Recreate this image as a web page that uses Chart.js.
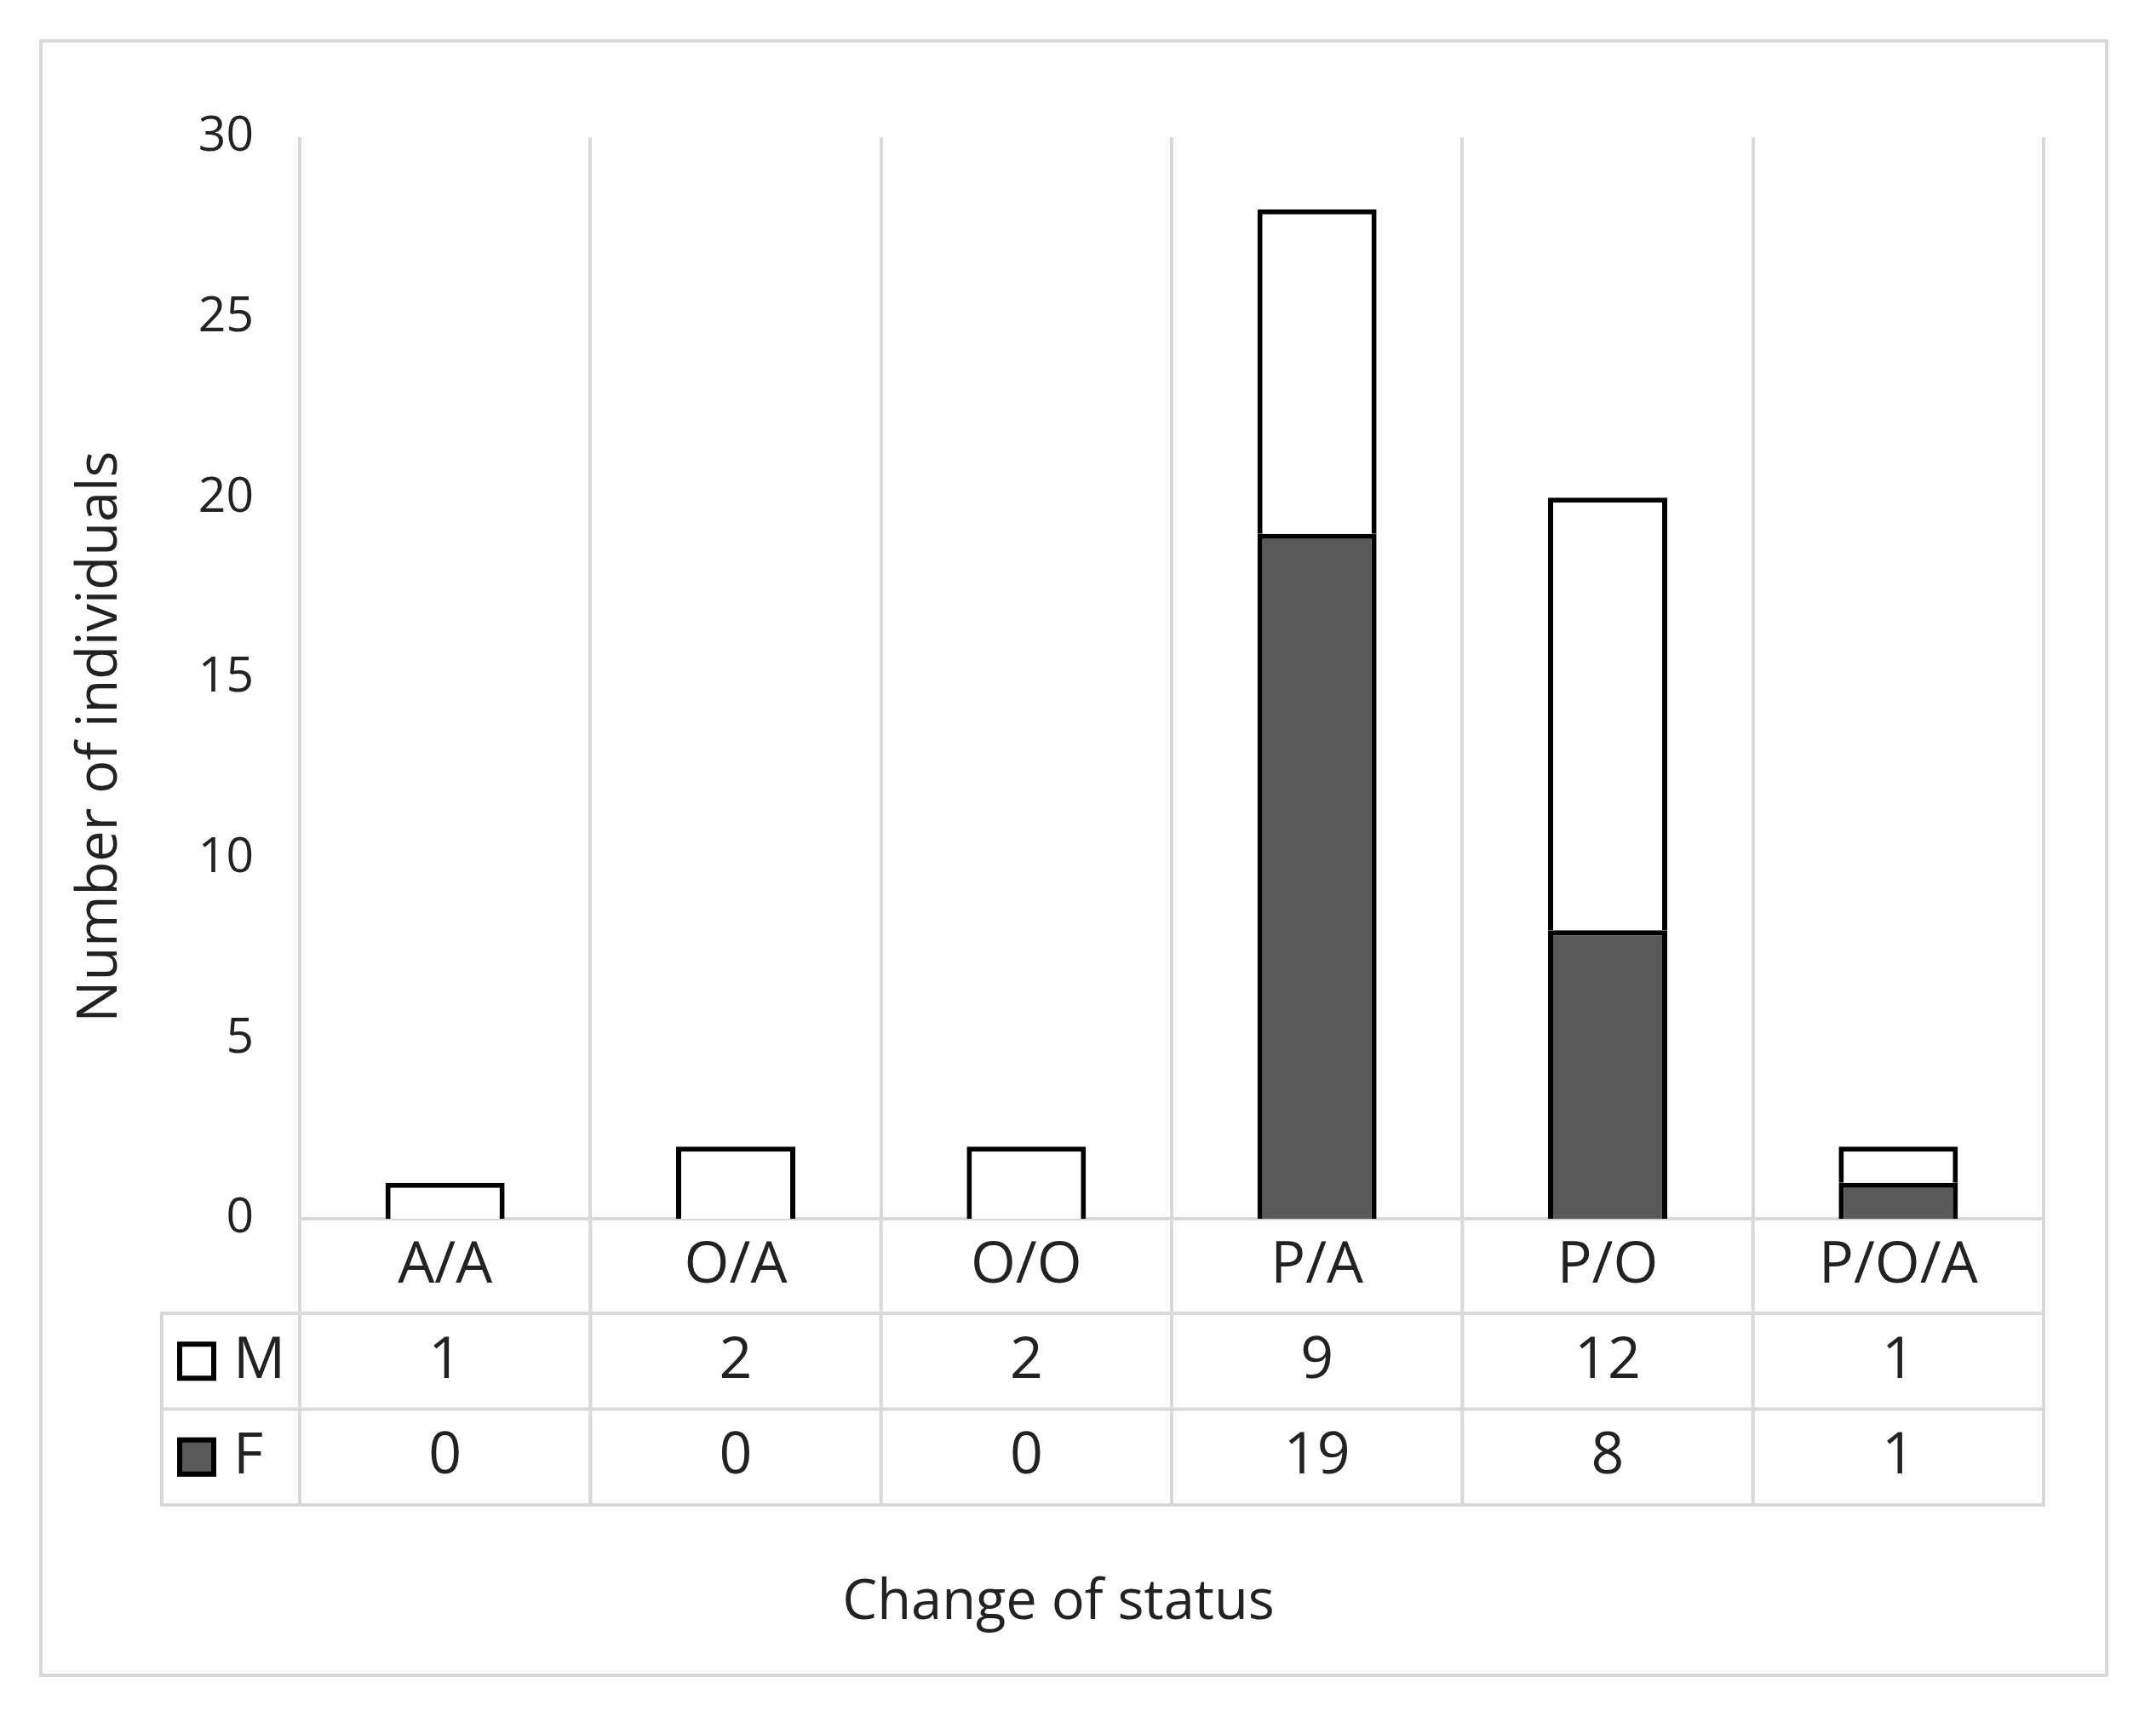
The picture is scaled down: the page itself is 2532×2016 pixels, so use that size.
<!DOCTYPE html>
<html>
<head>
<meta charset="utf-8">
<title>Change of status</title>
<script src="https://cdn.jsdelivr.net/npm/chart.js@4.4.1/dist/chart.umd.min.js"></script>
<style>
	html, body { margin: 0; padding: 0; background: #fff; }
	#chart-container { width: 2532px; height: 2016px; position: relative; }
</style>
</head>
<body>
<div id="chart-container">
	<canvas id="bar-chartcanvas"></canvas>
</div>
<script>
// data
var categories = ["A/A", "O/A", "O/O", "P/A", "P/O", "P/O/A"];
var maleCounts = [1, 2, 2, 9, 12, 1];
var femaleCounts = [0, 0, 0, 19, 8, 1];
var seriesNames = ["M", "F"];
var yMin = 0;
var yMax = 30;
var yStep = 5;
var xTitle = "Change of status";
var yTitle = "Number of individuals";

var textColor = "#222222";
var lineColor = "#d9d9d9";
var fontFamily = "'Open Sans', 'DejaVu Sans', sans-serif";

/**
 * data table under the x axis (legend keys + values), axis titles and frame.
 * column positions come from the x scale.
 */
var tablePlugin = {
	id : "dataTable",
	afterDraw : function(chart, args, opts) {
		var ctx = chart.ctx;
		var xs = chart.scales.x;
		var area = chart.chartArea;
		var n = chart.data.labels.length;
		var right = xs.getPixelForValue(n - 0.5);
		var rows = chart.data.datasets.slice().reverse(); // M row first, F row second
		var rowTop = opts.firstRowTop;
		var rowH = opts.rowHeight;
		var tableBottom = rowTop + rows.length * rowH;
		var r, i;

		ctx.save();

		// grid lines of the table
		ctx.strokeStyle = lineColor;
		ctx.lineWidth = opts.lineWidth;
		ctx.beginPath();
		for (r = 0; r <= rows.length; r++) {
			ctx.moveTo(opts.tableLeft, rowTop + r * rowH);
			ctx.lineTo(right + opts.lineWidth / 2, rowTop + r * rowH);
		}
		for (i = 0; i <= n; i++) {
			var xx = xs.getPixelForValue(i - 0.5);
			ctx.moveTo(xx, area.bottom);
			ctx.lineTo(xx, tableBottom + opts.lineWidth / 2);
		}
		ctx.moveTo(opts.tableLeft, rowTop - opts.lineWidth / 2);
		ctx.lineTo(opts.tableLeft, tableBottom + opts.lineWidth / 2);
		ctx.stroke();

		// outer frame
		ctx.lineWidth = opts.frameWidth;
		ctx.strokeRect(opts.frame[0], opts.frame[1], opts.frame[2] - opts.frame[0], opts.frame[3] - opts.frame[1]);

		// rows: legend key + values
		ctx.textBaseline = "middle";
		ctx.font = opts.tableFontSize + "px " + fontFamily;
		for (r = 0; r < rows.length; r++) {
			var ds = rows[r];
			var cy = rowTop + (r + 0.5) * rowH;
			var k = opts.keySize;
			var bw = opts.keyBorder;
			ctx.fillStyle = ds.backgroundColor;
			ctx.fillRect(opts.keyLeft, cy - k / 2, k, k);
			ctx.strokeStyle = ds.borderColor;
			ctx.lineWidth = bw;
			ctx.strokeRect(opts.keyLeft + bw / 2, cy - k / 2 + bw / 2, k - bw, k - bw);

			ctx.fillStyle = textColor;
			ctx.textAlign = "left";
			ctx.fillText(ds.label, opts.keyLeft + k + opts.keyGap, cy);

			ctx.textAlign = "center";
			for (i = 0; i < n; i++) {
				ctx.fillText(String(ds.data[i]), xs.getPixelForValue(i), cy);
			}
		}

		// axis titles
		ctx.font = opts.titleFontSize + "px " + fontFamily;
		ctx.fillStyle = textColor;
		ctx.textAlign = "center";
		ctx.fillText(xTitle, opts.xTitlePos[0], opts.xTitlePos[1]);

		ctx.translate(opts.yTitlePos[0], opts.yTitlePos[1]);
		ctx.rotate(-Math.PI / 2);
		ctx.fillText(yTitle, 0, 0);

		ctx.restore();
	}
};

//get canvas
var ctx = document.getElementById("bar-chartcanvas");

var data = {
	labels : categories,
	datasets : [
		{
			label : seriesNames[1],
			data : femaleCounts,
			backgroundColor : "#595959",
			borderColor : "#000000",
			borderWidth : 6
		},
		{
			label : seriesNames[0],
			data : maleCounts,
			backgroundColor : "#ffffff",
			borderColor : "#000000",
			borderWidth : 6
		}
	]
};

var options = {
	responsive : true,
	maintainAspectRatio : false,
	animation : false,
	devicePixelRatio : 1,
	categoryPercentage : 0.41,
	barPercentage : 1,
	layout : {
		padding : { top : 161, right : 132, left : 0, bottom : 0 }
	},
	plugins : {
		legend : { display : false },
		title : { display : false },
		tooltip : { enabled : false },
		dataTable : {
			firstRowTop : 1542,
			rowHeight : 112.5,
			tableLeft : 190,
			lineWidth : 4,
			frameWidth : 4,
			frame : [48, 48, 2474, 1967],
			keyLeft : 208,
			keySize : 46,
			keyBorder : 6,
			keyGap : 20,
			tableFontSize : 68,
			titleFontSize : 65,
			xTitlePos : [1243, 1882],
			yTitlePos : [118, 865]
		}
	},
	scales : {
		x : {
			stacked : true,
			offset : true,
			grid : { display : true, offset : true, color : lineColor, lineWidth : 4, drawTicks : false },
			border : { display : true, color : lineColor, width : 4 },
			ticks : {
				color : textColor,
				font : { family : fontFamily, size : 68 },
				padding : 15,
				maxRotation : 0,
				autoSkip : false
			},
			afterFit : function(scale) { scale.height = 2016 - 1431; }
		},
		y : {
			stacked : true,
			min : yMin,
			max : yMax,
			grid : { display : false, drawTicks : false },
			border : { display : false },
			ticks : {
				stepSize : yStep,
				color : textColor,
				font : { family : fontFamily, size : 57 },
				padding : 54
			},
			afterFit : function(scale) { scale.width = 352; }
		}
	}
};

var chart = new Chart(ctx, {
	type : "bar",
	data : data,
	options : options,
	plugins : [tablePlugin]
});
</script>
</body>
</html>
